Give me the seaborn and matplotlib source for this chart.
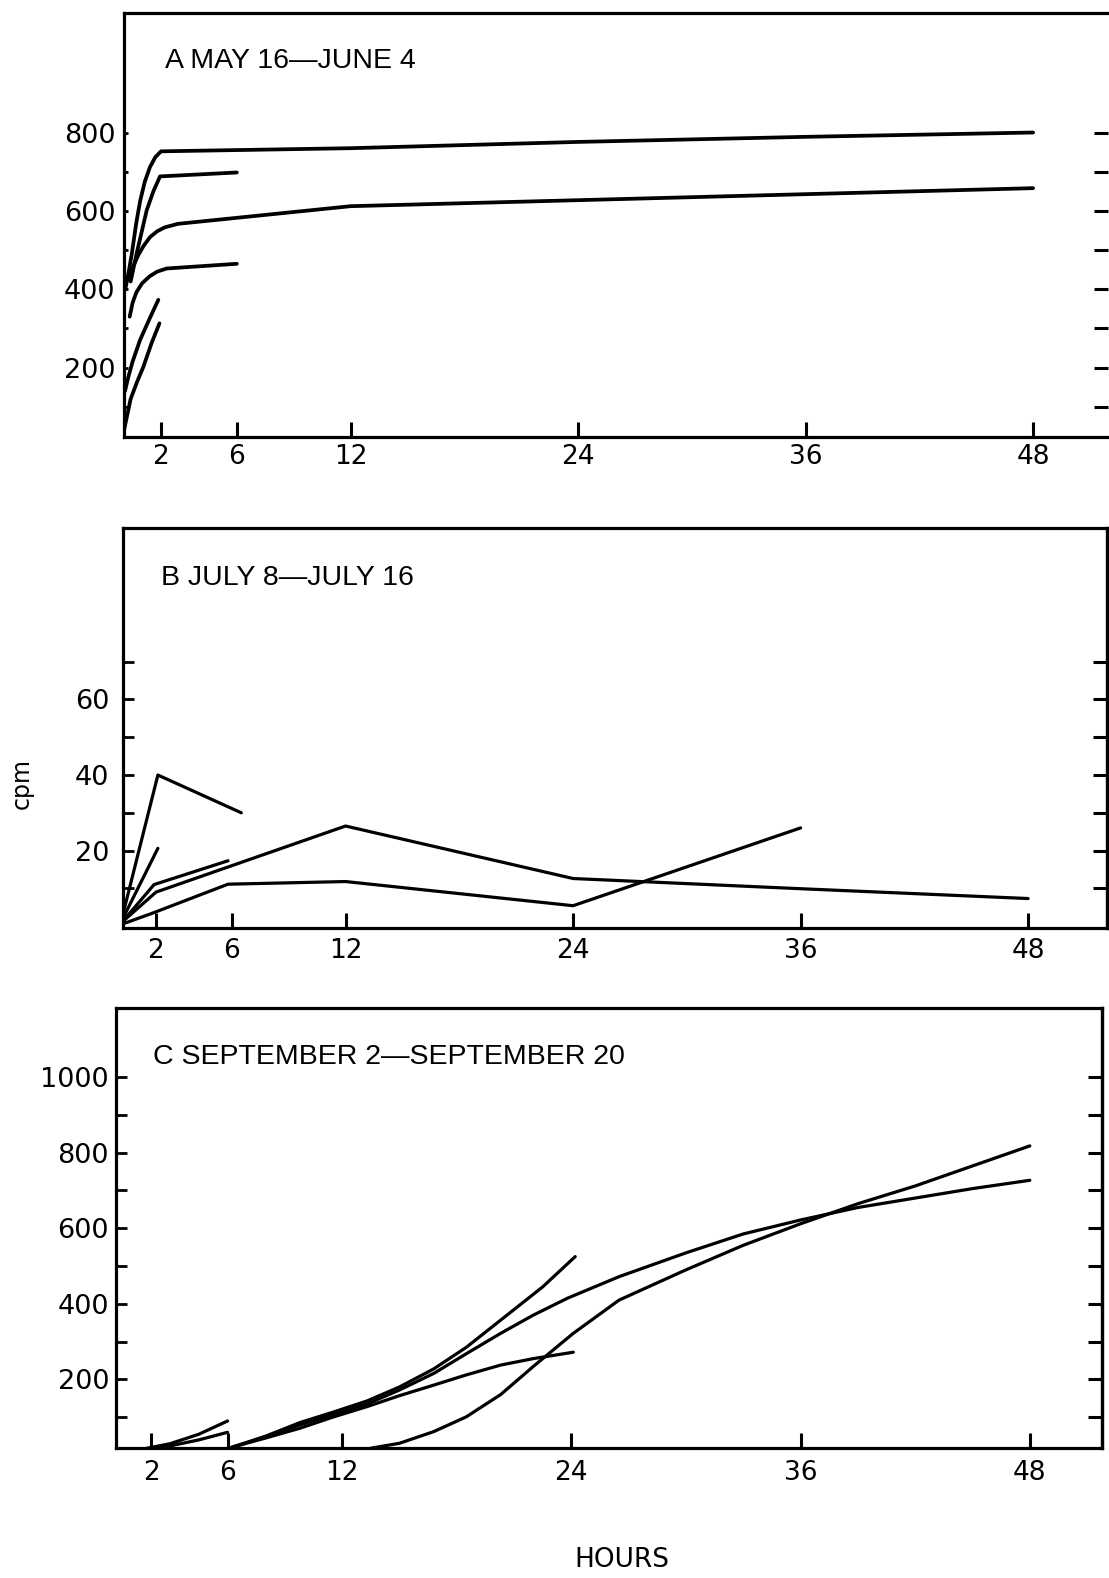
import numpy as np
import pandas as pd
import matplotlib
matplotlib.use("Agg")
import matplotlib.pyplot as plt
import seaborn as sns

sns.set_style("white")
plt.rcParams["font.family"] = ["DejaVu Sans"]
plt.rcParams["text.color"] = "black"

# ---------------- data (hours, cpm) ----------------
# Panel A  MAY 16 - JUNE 4
a1_h = [0.12, 0.3, 0.46, 0.7, 0.9, 1.15, 1.42, 1.7, 2.0, 12, 24, 36, 48]
a1_v = [400, 445, 490, 570, 625, 675, 712, 737, 752, 760, 776, 789, 800]
a2_h = [0.4, 0.72, 1.0, 1.25, 1.6, 1.95, 6]
a2_v = [420, 492, 550, 602, 650, 688, 698]
a3_h = [0.3, 0.55, 0.8, 1.1, 1.42, 1.8, 2.2, 2.9, 12, 48]
a3_v = [425, 460, 487, 512, 533, 548, 558, 567, 612, 658]
a4_h = [0.35, 0.5, 0.7, 1.0, 1.4, 1.8, 2.3, 6]
a4_v = [330, 365, 392, 415, 433, 445, 453, 465]
a5_h = [0.1, 0.3, 0.5, 0.9, 1.4, 1.86]
a5_v = [140, 180, 215, 271, 325, 373]
a6_h = [0.05, 0.4, 0.75, 1.07, 1.5, 1.92]
a6_v = [40, 120, 165, 202, 262, 313]

# Panel B  JULY 8 - JULY 16
b1_h = [0.2, 2.1, 6.5]
b1_v = [2, 40, 30]
b2_h = [0.2, 2.1]
b2_v = [1.5, 20.6]
b3_h = [0.2, 1.9, 5.8]
b3_v = [1, 11, 17.3]
b4_h = [0.2, 2, 12, 24, 36, 48]
b4_v = [1, 9, 26.5, 12.6, 9.9, 7.3]
b5_h = [0.2, 1.8, 5.8, 12, 24, 36]
b5_v = [0.5, 3.4, 11.1, 11.8, 5.4, 26]

# Panel C  SEPTEMBER 2 - SEPTEMBER 20
c1_h = [1.2, 3, 4.5, 6]
c1_v = [12, 30, 55, 90]
c2_h = [1.2, 3, 4.5, 6]
c2_v = [12, 24, 40, 60]
c3_h = [6.2, 8, 9.8, 11.5, 13.3, 15, 16.8, 18.5, 20.3, 22.5, 24.2]
c3_v = [20, 50, 86, 113, 143, 180, 228, 285, 357, 445, 525]
c4_h = [6.2, 8, 9.8, 11.5, 13.3, 15, 16.8, 18.5, 20.3, 22, 23.8, 26.5, 30, 33,
        36, 39, 42, 45, 48]
c4_v = [20, 48, 80, 106, 135, 172, 216, 268, 322, 370, 415, 472, 535, 585,
        622, 655, 680, 705, 727]
c5_h = [6.2, 8, 9.8, 11.5, 13.3, 15, 16.8, 18.5, 20.3, 22, 24.1]
c5_v = [20, 45, 71, 100, 128, 157, 185, 212, 238, 255, 272]
c6_h = [13.5, 15, 16.8, 18.5, 20.3, 22, 24.1, 26.5, 30, 33, 36, 39, 42, 45, 48]
c6_v = [18, 31, 62, 101, 160, 234, 322, 410, 490, 555, 612, 665, 712, 765, 818]

x_ticks = [2, 6, 12, 24, 36, 48]
titles = ["A MAY 16\u2014JUNE 4", "B JULY 8\u2014JULY 16",
          "C SEPTEMBER 2\u2014SEPTEMBER 20"]

seriesA = [(a1_h, a1_v), (a2_h, a2_v), (a3_h, a3_v), (a4_h, a4_v),
           (a5_h, a5_v), (a6_h, a6_v)]
seriesB = [(b1_h, b1_v), (b2_h, b2_v), (b3_h, b3_v), (b4_h, b4_v), (b5_h, b5_v)]
seriesC = [(c1_h, c1_v), (c2_h, c2_v), (c3_h, c3_v), (c4_h, c4_v),
           (c5_h, c5_v), (c6_h, c6_v)]

W, H = 1109, 1578
fig = plt.figure(figsize=(W / 100, H / 100), dpi=100)


def px_axes(l, t, r, b):
    return fig.add_axes([l / W, 1 - b / H, (r - l) / W, (b - t) / H])


panels = [
    dict(series=seriesA, box=(124, 13, 1108, 437), xlim=(0.05, 51.95), ylim=(23, 1105),
         yticks=list(range(100, 900, 100)), ylab=[200, 400, 600, 800],
         lw=2.7, ltick=3, xpad=5, ypad=6, right_spine=False),
    dict(series=seriesB, box=(123, 528, 1107, 928), xlim=(0.26, 52.16), ylim=(-0.5, 105.4),
         yticks=list(range(10, 80, 10)), ylab=[20, 40, 60],
         lw=2.3, ltick=8, xpad=7, ypad=10, right_spine=True),
    dict(series=seriesC, box=(116, 1008, 1102, 1448), xlim=(0.16, 51.78), ylim=(18.5, 1183),
         yticks=list(range(100, 1100, 100)), ylab=[200, 400, 600, 800, 1000],
         lw=2.3, ltick=8, xpad=9, ypad=5, right_spine=True),
]

for p in panels:
    ax = px_axes(*p["box"])
    for hs, vs in p["series"]:
        d = pd.DataFrame({"h": hs, "v": vs})
        sns.lineplot(data=d, x="h", y="v", estimator=None, sort=False,
                     color="black", lw=p["lw"], ax=ax, legend=False,
                     solid_capstyle="round", solid_joinstyle="round")
    ax.set_xlim(*p["xlim"])
    ax.set_ylim(*p["ylim"])
    ax.set_xlabel("")
    ax.set_ylabel("")
    ax.set_xticks(x_ticks)
    ax.set_xticklabels([str(t) for t in x_ticks])
    ax.set_yticks(p["yticks"])
    ax.set_yticklabels([str(t) if t in p["ylab"] else "" for t in p["yticks"]])
    ax.tick_params(axis="x", direction="in", length=11, width=2.2,
                   pad=p["xpad"], labelsize=19, colors="black", bottom=True, top=False)
    ax.tick_params(axis="y", direction="in", length=p["ltick"], width=2.0,
                   pad=p["ypad"], labelsize=19.5, colors="black", left=True, right=False)
    for name, sp in ax.spines.items():
        sp.set_color("black")
        sp.set_linewidth(2.3)
    ax.spines["right"].set_visible(p["right_spine"])
    ax.grid(False)
    sec = ax.secondary_yaxis("right")
    sec.set_yticks(p["yticks"])
    sec.set_yticklabels([""] * len(p["yticks"]))
    sec.tick_params(direction="in", length=10, width=2.2, colors="black")
    sec.spines["right"].set_visible(p["right_spine"])
    sec.spines["right"].set_linewidth(2.3)
    sec.spines["right"].set_color("black")

fig.text(165 / W, 1 - 61 / H, titles[0], ha="left", va="center",
         fontsize=20.5, family="Liberation Sans", color="black")
fig.text(161 / W, 1 - 578 / H, titles[1], ha="left", va="center",
         fontsize=20.5, family="Liberation Sans", color="black")
fig.text(153 / W, 1 - 1057 / H, titles[2], ha="left", va="center",
         fontsize=20.5, family="Liberation Sans", color="black")
fig.text(22 / W, 1 - 783 / H, "cpm", rotation=90, ha="center", va="center",
         fontsize=17, color="black")
fig.text(622 / W, 1 - 1560 / H, "HOURS", ha="center", va="center",
         fontsize=19, color="black")

fig.savefig("out.png", dpi=100, facecolor="white")
